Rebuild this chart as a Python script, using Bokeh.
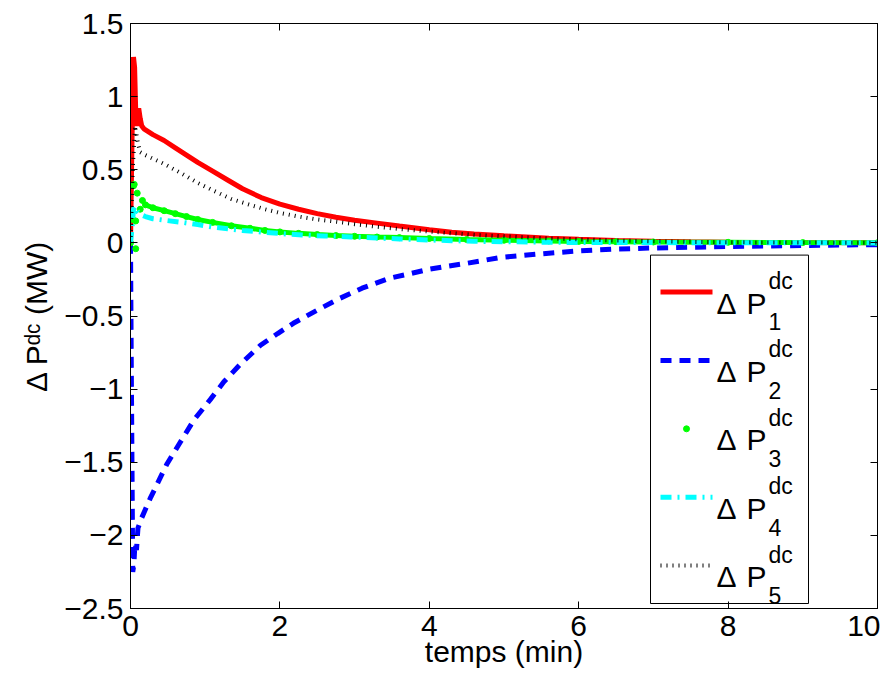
from bokeh.plotting import figure
from bokeh.models import Range1d, LinearAxis, FixedTicker, Label
from bokeh.embed import file_html
from bokeh.resources import INLINE

# ---- data ----
t1 = [0, 0.02, 0.04, 0.055, 0.07, 0.09, 0.11, 0.13, 0.15, 0.18, 0.3, 0.45, 0.6, 0.75, 0.9, 1.1, 1.3,
      1.5, 1.75, 2.0, 2.25, 2.5, 2.75, 3.0, 3.3, 3.6, 4.0, 4.3, 4.6, 5.0, 5.3, 5.6, 6.0, 6.5, 7.0,
      7.5, 8.0, 9.0, 10.0]
p1 = [0, 0.7, 1.27, 1.2, 0.9, 0.8, 0.92, 0.85, 0.8, 0.78, 0.74, 0.70, 0.65, 0.60, 0.55, 0.49, 0.43,
      0.37, 0.31, 0.265, 0.23, 0.20, 0.175, 0.155, 0.135, 0.115, 0.09, 0.072, 0.06, 0.048, 0.04,
      0.032, 0.024, 0.016, 0.011, 0.007, 0.004, 0.002, 0.001]

t2 = [0, 0.01, 0.03, 0.045, 0.06, 0.08, 0.1, 0.15, 0.27, 0.49, 0.67, 0.85, 1.07, 1.25, 1.47, 1.74,
      1.97, 2.18, 2.5, 2.8, 3.1, 3.48, 3.75, 4.0, 4.24, 4.5, 4.95, 5.49, 6.0, 6.5, 7.0, 7.5, 8.0,
      9.0, 10.0]
p2 = [0, -0.8, -2.25, -2.2, -2.05, -2.1, -1.95, -1.88, -1.74, -1.51, -1.36, -1.21, -1.07, -0.95,
      -0.83, -0.70, -0.62, -0.55, -0.46, -0.38, -0.31, -0.24, -0.21, -0.18, -0.16, -0.14, -0.10,
      -0.075, -0.055, -0.042, -0.035, -0.03, -0.025, -0.018, -0.012]

t3_early = [0.0, 0.03, 0.04, 0.05, 0.07, 0.07, 0.09, 0.13, 0.16]
p3_early = [0.0, 0.16, 0.39, 0.40, 0.15, -0.04, 0.34, 0.23, 0.29]
t3 = [0.2, 0.3, 0.45, 0.6, 0.75, 0.9, 1.1, 1.35, 1.6, 1.8, 2.0, 2.25, 2.5, 2.75, 3.0, 3.3, 3.6,
      4.0, 4.5, 5.0, 5.6, 6.0, 6.5, 7.0, 8.0, 9.0, 10.0]
p3 = [0.26, 0.24, 0.22, 0.20, 0.18, 0.16, 0.14, 0.117, 0.10, 0.085, 0.075, 0.065, 0.057, 0.05,
      0.045, 0.04, 0.036, 0.03, 0.023, 0.018, 0.013, 0.01, 0.008, 0.006, 0.004, 0.002, 0.001]

t4 = [0, 0.02, 0.04, 0.06, 0.1, 0.13, 0.2, 0.3, 0.45, 0.7, 0.9, 1.1, 1.3, 1.5, 1.75, 2.0, 2.3,
      2.6, 2.95, 3.3, 3.6, 4.0, 4.3, 4.6, 5.0, 5.6, 6.0, 7.0, 8.0, 9.0, 10.0]
p4 = [0, 0.1, 0.23, 0.25, 0.21, 0.195, 0.18, 0.165, 0.155, 0.14, 0.125, 0.108, 0.097, 0.085,
      0.074, 0.064, 0.054, 0.047, 0.041, 0.033, 0.027, 0.02, 0.015, 0.011, 0.008, 0.004, 0.003,
      0.002, 0.001, 0.001, 0.0]

t5 = [0, 0.03, 0.06, 0.1, 0.13, 0.2, 0.45, 0.7, 0.9, 1.1, 1.35, 1.6, 1.8, 2.0, 2.25, 2.5, 2.75,
      3.0, 3.3, 3.6, 4.0, 4.3, 4.6, 5.0, 5.3, 5.6, 6.0, 6.5, 7.0, 7.5, 8.0, 9.0, 10.0]
p5 = [0, 0.5, 0.8, 0.68, 0.62, 0.6, 0.54, 0.47, 0.41, 0.36, 0.30, 0.26, 0.23, 0.205, 0.18, 0.16,
      0.145, 0.128, 0.11, 0.095, 0.078, 0.066, 0.055, 0.045, 0.038, 0.031, 0.024, 0.016, 0.011,
      0.007, 0.004, 0.002, 0.001]

x_ticks = [0, 2, 4, 6, 8, 10]
x_tick_labels = ["0", "2", "4", "6", "8", "10"]
y_ticks = [-2.5, -2, -1.5, -1, -0.5, 0, 0.5, 1, 1.5]
y_tick_labels = ["\u22122.5", "\u22122", "\u22121.5", "\u22121", "\u22120.5", "0", "0.5", "1", "1.5"]
series_index = ["1", "2", "3", "4", "5"]
x_label = "temps (min)"
y_label = "\u0394 P\u1d48\u1d9c (MW)"

FONT = "Liberation Sans"
FS = "30px"

# frame geometry (canvas pixels)
FL, FT, FW, FH = 130, 23, 747, 586
FB = FT + FH

p = figure(width=880, height=670, x_range=Range1d(0, 10), y_range=Range1d(-2.5, 1.5),
           output_backend="svg", toolbar_location=None,
           min_border_left=FL, min_border_right=880 - FL - FW, min_border_top=FT,
           min_border_bottom=670 - FB)
p.extra_x_ranges = {"fx": Range1d(0, 1)}
p.extra_y_ranges = {"fy": Range1d(0, 1)}
p.grid.visible = False
p.outline_line_color = "black"
p.outline_line_width = 1
p.background_fill_color = "white"
p.border_fill_color = "white"

def style_axis(ax, ticks, labels, standoff, show=True):
    ax.ticker = FixedTicker(ticks=ticks)
    ax.major_label_overrides = {k: v for k, v in zip(ticks, labels)}
    ax.major_tick_in = 7
    ax.major_tick_out = 0
    ax.minor_tick_in = 0
    ax.minor_tick_out = 0
    ax.axis_line_color = "black"
    ax.major_tick_line_color = "black"
    ax.major_label_text_font = FONT
    ax.major_label_text_color = "black"
    ax.major_label_standoff = standoff
    ax.major_label_text_font_size = FS if show else "0px"

style_axis(p.xaxis[0], x_ticks, x_tick_labels, 7)
style_axis(p.yaxis[0], y_ticks, y_tick_labels, 7)
for ax, lab, so in ((p.xaxis[0], x_label, -4), (p.yaxis[0], y_label, 8)):
    ax.axis_label = lab
    ax.axis_label_text_font = FONT
    ax.axis_label_text_font_size = FS
    ax.axis_label_text_font_style = "normal"
    ax.axis_label_text_color = "black"
    ax.axis_label_standoff = so

top_ax = LinearAxis()
style_axis(top_ax, x_ticks, ["" for _ in x_ticks], 0, show=False)
p.add_layout(top_ax, "above")
right_ax = LinearAxis()
style_axis(right_ax, y_ticks, ["" for _ in y_ticks], 0, show=False)
p.add_layout(right_ax, "right")

# ---- curves ----
p.line(t1, p1, line_color="#ff0000", line_width=5)
p.line(t2, p2, line_color="#0000ff", line_width=5, line_dash="11 8")
p.line(t3, p3, line_color="#00ff00", line_width=5)
p.scatter(t3_early + t3, p3_early + p3, size=6, marker="circle",
          fill_color="#00ff00", line_color="#00ff00")
p.line(t4, p4, line_color="#00ffff", line_width=5, line_dash="11 6 2 6")
p.line(t5, p5, line_color="black", line_width=4, line_dash="1 5")

# ---- legend (frame-fraction coordinates) ----
def fx(px):
    return (px - FL) / FW
def fy(py):
    return (FB - py) / FH

p.quad(left=[fx(650)], right=[fx(808)], bottom=[fy(604)], top=[fy(255)],
       fill_color="white", line_color="black", line_width=1,
       x_range_name="fx", y_range_name="fy")

styles = [
    dict(line_color="#ff0000", line_width=5),
    dict(line_color="#0000ff", line_width=5, line_dash="11 8"),
    None,
    dict(line_color="#00ffff", line_width=5, line_dash="11 6 2 6"),
    dict(line_color="black", line_width=4, line_dash="1 5"),
]
step = 68.5

def flabel(px, py, text, size):
    p.add_layout(Label(x=fx(px), y=fy(py), text=text, text_font=FONT, text_font_size=size,
                       text_baseline="alphabetic", text_color="black",
                       x_range_name="fx", y_range_name="fy"))

for i, idx in enumerate(series_index):
    yc = 292 + step * i
    if styles[i] is None:
        p.scatter([fx(686)], [fy(yc)], size=6, marker="circle", fill_color="#00ff00",
                  line_color="#00ff00", x_range_name="fx", y_range_name="fy")
    else:
        p.line([fx(660), fx(712)], [fy(yc), fy(yc)], x_range_name="fx", y_range_name="fy",
               **styles[i])
    flabel(716, 303 + step * i, "\u0394", "30px")
    flabel(746, 303 + step * i, "P", "30px")
    flabel(768, 281 + step * i, "dc", "23px")
    flabel(768, 322 + step * i, idx, "23px")

open("out.html", "w").write(file_html(p, INLINE))
